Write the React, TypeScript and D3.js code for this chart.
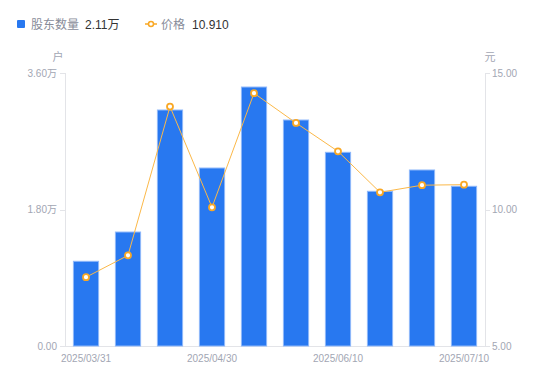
import React from "react";
import * as d3 from "d3";

const dates = [
  "2025/03/31", "2025/04/10", "2025/04/20", "2025/04/30", "2025/05/20",
  "2025/05/30", "2025/06/10", "2025/06/20", "2025/06/30", "2025/07/10",
];
const holders = [1.117, 1.503, 3.112, 2.347, 3.415, 2.98, 2.554, 2.04, 2.321, 2.106];
const prices = [7.52, 8.32, 13.77, 10.08, 14.26, 13.17, 12.13, 10.63, 10.89, 10.91];
const leftTicks = [0, 1.8, 3.6];
const rightTicks = [5, 10, 15];
const shownLabels = [0, 3, 6, 9];

const W = 550, H = 381;
const L = 65, R = 485, T = 73, B = 346;
const FONT = "'Liberation Sans', Arial, 'Noto Sans CJK SC', sans-serif";
const LABEL = "#a2a6b3";
const AXIS = "#e3e4e8";

export default function App() {
  const x = d3.scaleBand<string>().domain(dates).range([L, R]).paddingInner(0.4).paddingOuter(0.2);
  const yL = d3.scaleLinear().domain([0, 3.6]).range([B, T]);
  const yR = d3.scaleLinear().domain([5, 15]).range([B, T]);
  const cx = (d: string) => (x(d) ?? 0) + x.bandwidth() / 2;
  const line = d3.line<number>().x((_, i) => cx(dates[i])).y((v) => yR(v));

  return (
    <svg width={W} height={H} style={{ position: "absolute", left: 0, top: 0, fontFamily: FONT }}>
      <rect width={W} height={H} fill="#fff" />
      {/* legend */}
      <rect x={17} y={20} width={8} height={8} fill="#2878f0" rx={1} />
      <text x={31} y={29} fontSize={12} fill="#888c99">股东数量</text>
      <text x={85} y={29} fontSize={12} fill="#333">2.11万</text>
      <line x1={145} x2={157} y1={24} y2={24} stroke="#f9a825" strokeWidth={1.5} />
      <circle cx={151} cy={24} r={2.5} fill="#fff" stroke="#f9a825" strokeWidth={1.5} />
      <text x={161} y={29} fontSize={12} fill="#888c99">价格</text>
      <text x={192} y={29} fontSize={12} fill="#333">10.910</text>

      {/* axis titles */}
      <text x={58} y={61} fontSize={11} fill={LABEL} textAnchor="middle">户</text>
      <text x={490} y={61} fontSize={11} fill={LABEL} textAnchor="middle">元</text>

      {/* axes */}
      <line x1={L + 0.5} x2={L + 0.5} y1={T} y2={B} stroke={AXIS} />
      <line x1={R + 0.5} x2={R + 0.5} y1={T} y2={B} stroke={AXIS} />
      <line x1={L} x2={R} y1={B + 0.5} y2={B + 0.5} stroke={AXIS} />
      {leftTicks.map((t) => (
        <g key={"l" + t}>
          <line x1={L - 5} x2={L} y1={Math.round(yL(t)) + 0.5} y2={Math.round(yL(t)) + 0.5} stroke={AXIS} />
          <text x={L - 8} y={yL(t) + 3.5} fontSize={10} fill={LABEL} textAnchor="end">
            {t === 0 ? "0.00" : t.toFixed(2) + "万"}
          </text>
        </g>
      ))}
      {rightTicks.map((t) => (
        <g key={"r" + t}>
          <line x1={R} x2={R + 5} y1={Math.round(yR(t)) + 0.5} y2={Math.round(yR(t)) + 0.5} stroke={AXIS} />
          <text x={R + 7} y={yR(t) + 3.5} fontSize={10} fill={LABEL} textAnchor="start">
            {t.toFixed(2)}
          </text>
        </g>
      ))}
      {shownLabels.map((i) => (
        <text key={"x" + i} x={cx(dates[i])} y={362} fontSize={10} fill={LABEL} textAnchor="middle">
          {dates[i]}
        </text>
      ))}

      {/* bars */}
      {holders.map((v, i) => (
        <rect
          key={"b" + i}
          x={x(dates[i])}
          y={yL(v)}
          width={x.bandwidth()}
          height={B - yL(v)}
          fill="#2878f0"
          stroke="#8fb8fa"
          strokeWidth={1}
        />
      ))}

      {/* price line */}
      <path d={line(prices) ?? ""} fill="none" stroke="#fbb848" strokeWidth={1} />
      {prices.map((v, i) => (
        <circle key={"p" + i} cx={cx(dates[i])} cy={yR(v)} r={3} fill="#fff" stroke="#f9a825" strokeWidth={1.8} />
      ))}
    </svg>
  );
}
